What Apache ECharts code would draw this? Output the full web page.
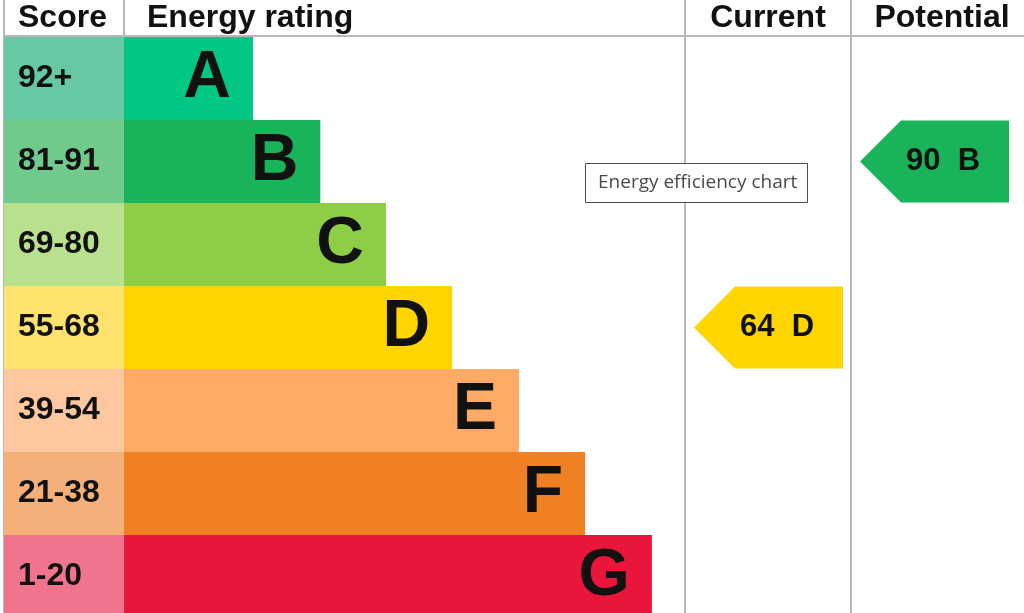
<!DOCTYPE html>
<html><head><meta charset="utf-8">
<script src="https://cdn.jsdelivr.net/npm/echarts@6/dist/echarts.min.js"></script>
<style>html,body{margin:0;padding:0;background:#fff;overflow:hidden}#c{width:1024px;height:620px}</style>
</head><body><div id="c"></div>
<script>
const bands = ['A','B','C','D','E','F','G'];
const scoreRanges = ['92+','81-91','69-80','55-68','39-54','21-38','1-20'];
const barLengths = [23, 35, 46.7, 58.5, 70.4, 82.2, 94.1]; // % of the rating column
const bandColors = ['#00c781','#19b459','#8dce46','#ffd500','#fcaa65','#ef8023','#e9153b'];
const scoreColors = ['#66c9a3','#6fca8b','#b9e08c','#ffe36e','#fdc8a0','#f5b07a','#f1748d'];
const currentScore = 64, currentBand = 'D';
const potentialScore = 90, potentialBand = 'B';
const headers = ['Score','Energy rating','Current','Potential'];
const tooltipText = 'Energy efficiency chart';

const FONT = '"Liberation Sans", Arial, sans-serif';
const LINE = '#b8b8b8';
const TOP = 37, ROWH = 83, H = ROWH * bands.length;

function yAx(i){ return {type:'category', data:bands, inverse:true, show:false, gridIndex:i}; }
function xAx(i){ return {type:'value', min:0, max:100, show:false, gridIndex:i}; }

function arrowSeries(idx, score, band){
  return {
    type:'custom', xAxisIndex:idx, yAxisIndex:idx, z:5,
    data:[[bands.indexOf(band), score]],
    encode:{y:0},
    renderItem:function(params, api){
      const cat = api.value(0);
      const p0 = api.coord([0, cat]);
      const p1 = api.coord([100, cat]);
      const bh = api.size([0, 1])[1] - 1;
      const h = bh / 2;
      const cy = p0[1], x0 = p0[0], x1 = p1[0];
      const col = bandColors[cat];
      return {type:'group', children:[
        {type:'polygon', shape:{points:[[x0,cy],[x0+h,cy-h],[x1,cy-h],[x1,cy+h],[x0+h,cy+h]]}, style:{fill:col}},
        {type:'text', style:{text: api.value(1) + '  ' + bands[cat], x:x0+46, y:cy, textAlign:'left', textVerticalAlign:'middle', font:'bold 31px ' + FONT, fill:'#111'}}
      ]};
    }
  };
}

function grid(left, width){ return {left:left, top:TOP, width:width, height:H, outerBoundsMode:'none', containLabel:false}; }

const chart = echarts.init(document.getElementById('c'), null, {renderer:'canvas'});
chart.setOption({
  animation:false,
  grid:[grid(4,120), grid(124,561), grid(694,149), grid(860,149)],
  xAxis:[xAx(0), xAx(1), xAx(2), xAx(3)],
  yAxis:[yAx(0), yAx(1), yAx(2), yAx(3)],
  series:[
    {type:'bar', xAxisIndex:0, yAxisIndex:0, barWidth:ROWH,
     data: scoreRanges.map((s,i)=>({value:100, itemStyle:{color:scoreColors[i]}})),
     label:{show:true, position:'insideLeft', distance:14, formatter:(p)=>scoreRanges[p.dataIndex],
            fontFamily:FONT, fontWeight:'bold', fontSize:32, color:'#111'}},
    {type:'bar', xAxisIndex:1, yAxisIndex:1, barWidth:ROWH,
     data: barLengths.map((v,i)=>({value:v, itemStyle:{color:bandColors[i]}})),
     label:{show:true, position:'insideRight', distance:22, formatter:(p)=>bands[p.dataIndex],
            fontFamily:FONT, fontWeight:'bold', fontSize:66, color:'#111'}},
    arrowSeries(2, currentScore, currentBand),
    arrowSeries(3, potentialScore, potentialBand)
  ],
  graphic:[
    {type:'line', shape:{x1:4, y1:36, x2:1024, y2:36}, style:{stroke:LINE, lineWidth:2}, z:1},
    {type:'line', shape:{x1:4, y1:0, x2:4, y2:620}, style:{stroke:LINE, lineWidth:2}, z:1},
    {type:'line', shape:{x1:124, y1:0, x2:124, y2:36}, style:{stroke:LINE, lineWidth:2}, z:1},
    {type:'line', shape:{x1:685, y1:0, x2:685, y2:620}, style:{stroke:LINE, lineWidth:2}, z:1},
    {type:'line', shape:{x1:851, y1:0, x2:851, y2:620}, style:{stroke:LINE, lineWidth:2}, z:1},
    {type:'text', style:{text:headers[0], x:18, y:18, textAlign:'left', textVerticalAlign:'middle', font:'bold 32px '+FONT, fill:'#111'}, z:10},
    {type:'text', style:{text:headers[1], x:147, y:18, textAlign:'left', textVerticalAlign:'middle', font:'bold 32px '+FONT, fill:'#111'}, z:10},
    {type:'text', style:{text:headers[2], x:768, y:18, textAlign:'center', textVerticalAlign:'middle', font:'bold 32px '+FONT, fill:'#111'}, z:10},
    {type:'text', style:{text:headers[3], x:942, y:18, textAlign:'center', textVerticalAlign:'middle', font:'bold 32px '+FONT, fill:'#111'}, z:10},
    {type:'rect', shape:{x:585.5, y:163.5, width:222, height:39}, style:{fill:'#fff', stroke:'#4d4d4d', lineWidth:1}, z:20},
    {type:'text', style:{text:tooltipText, x:598, y:183, textAlign:'left', textVerticalAlign:'middle', font:'19px "Open Sans", "Noto Sans", sans-serif', fill:'#4a4a4a'}, z:21}
  ]
});
</script></body></html>
